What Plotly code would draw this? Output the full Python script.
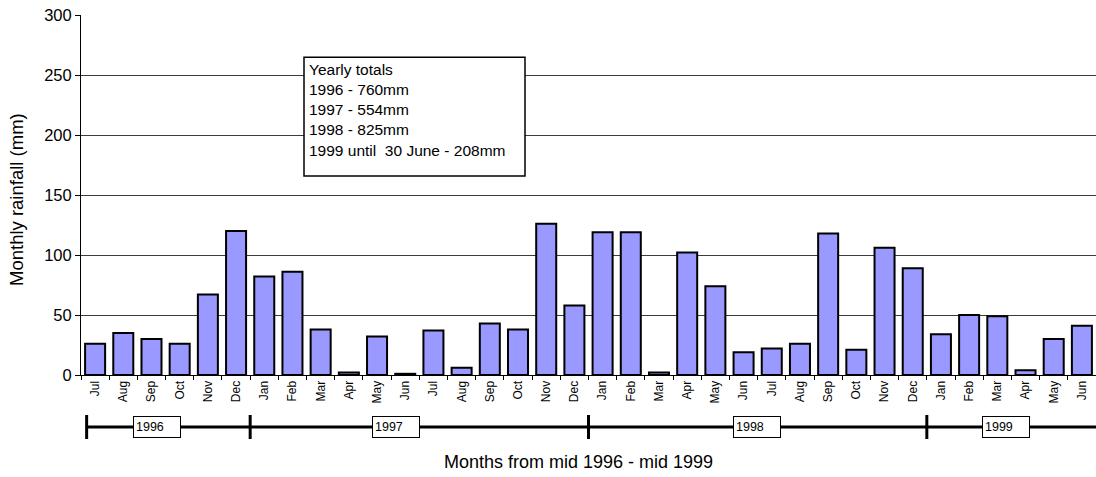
import plotly.graph_objects as go

# ---- data ----
months = ["Jul", "Aug", "Sep", "Oct", "Nov", "Dec",
          "Jan", "Feb", "Mar", "Apr", "May", "Jun", "Jul", "Aug", "Sep", "Oct", "Nov", "Dec",
          "Jan", "Feb", "Mar", "Apr", "May", "Jun", "Jul", "Aug", "Sep", "Oct", "Nov", "Dec",
          "Jan", "Feb", "Mar", "Apr", "May", "Jun"]
rainfall = [26, 35, 30, 26, 67, 120,
            82, 86, 38, 2, 32, 1, 37, 6, 43, 38, 126, 58,
            119, 119, 2, 102, 74, 19, 22, 26, 118, 21, 106, 89,
            34, 50, 49, 4, 30, 41]
years = ["1996", "1997", "1998", "1999"]
totals_lines = ["Yearly totals", "1996 - 760mm", "1997 - 554mm", "1998 - 825mm",
                "1999 until  30 June - 208mm"]

idx = list(range(len(months)))
FONT = "Liberation Sans, Arial, sans-serif"

fig = go.Figure()
fig.add_trace(go.Bar(
    x=idx, y=rainfall,
    marker=dict(color="#9999FF", line=dict(color="black", width=2)),
    width=0.71,
))

W, H = 1096, 477
L, R, T, B = 81, 0, 15, 102
pw = W - L - R
ph = H - T - B


def px2paper_x(px):
    return (px - L) / pw


def px2paper_y(py):
    return (H - B - py) / ph


def idx2paper(i):
    return (i + 0.5) / len(months)


shapes = []
annotations = []

# timeline under axis
line_y = px2paper_y(427)
start_b = -0.3
shapes.append(dict(type="line", xref="paper", yref="paper",
                   x0=idx2paper(start_b), x1=1.02, y0=line_y, y1=line_y,
                   line=dict(color="black", width=3)))
jan_bounds = [start_b] + [i - 0.5 for i, m in enumerate(months) if m == "Jan"]
for b in jan_bounds:
    xb = idx2paper(b)
    shapes.append(dict(type="line", xref="paper", yref="paper",
                       x0=xb, x1=xb, y0=px2paper_y(415), y1=px2paper_y(439),
                       line=dict(color="black", width=3)))

year_box_left = [133, 372, 733, 982]
for yr, bx in zip(years, year_box_left):
    annotations.append(dict(
        x=px2paper_x(bx), y=line_y, xref="paper", yref="paper",
        xanchor="left", yanchor="middle", text=yr, showarrow=False,
        align="left", width=42, height=16, borderpad=2, borderwidth=1,
        bordercolor="black", bgcolor="white",
        font=dict(family=FONT, size=12.5, color="black")))

# yearly totals box
shapes.append(dict(type="rect", xref="paper", yref="paper", layer="above",
                   x0=px2paper_x(304), x1=px2paper_x(525),
                   y0=px2paper_y(176), y1=px2paper_y(57.3),
                   line=dict(color="black", width=1.5), fillcolor="white"))
annotations.append(dict(
    x=px2paper_x(306.5), y=px2paper_y(109.7), xref="paper", yref="paper",
    xanchor="left", yanchor="middle", align="left", showarrow=False,
    text="<br>".join(totals_lines),
    font=dict(family=FONT, size=15.5, color="black")))

# axis titles
annotations.append(dict(
    x=px2paper_x(17), y=px2paper_y(200), xref="paper", yref="paper",
    xanchor="center", yanchor="middle", textangle=-90, showarrow=False,
    text="Monthly rainfall (mm)", font=dict(family=FONT, size=18.5, color="black")))
annotations.append(dict(
    x=px2paper_x(578), y=px2paper_y(462), xref="paper", yref="paper",
    xanchor="center", yanchor="middle", showarrow=False,
    text="Months from mid 1996 - mid 1999", font=dict(family=FONT, size=18, color="black")))

fig.update_layout(
    width=W, height=H,
    margin=dict(l=L, r=R, t=T, b=B, autoexpand=False),
    paper_bgcolor="white", plot_bgcolor="white",
    showlegend=False,
    bargap=0.29,
    shapes=shapes,
    annotations=annotations,
    xaxis=dict(
        range=[-0.5, len(months) - 0.5],
        tickmode="array", tickvals=idx, ticktext=months,
        tickangle=-90, ticks="", showgrid=False, zeroline=False,
        showline=True, linecolor="black", linewidth=1,
        tickfont=dict(family=FONT, size=12, color="black"),
        minor=dict(ticks="outside", tick0=0.5, dtick=1, ticklen=4,
                   tickcolor="black", tickwidth=1, showgrid=False),
        fixedrange=True,
    ),
    yaxis=dict(
        range=[0, 300], tickmode="linear", tick0=0, dtick=50,
        ticks="outside", ticklen=5, tickcolor="black",
        showgrid=True, gridcolor="#3c3c3c", gridwidth=1,
        zeroline=False, showline=True, linecolor="black", linewidth=1,
        tickfont=dict(family=FONT, size=16.5, color="black"),
        fixedrange=True,
    ),
)

fig.write_html(
    "out.html",
    config={"displayModeBar": False},
    post_script="document.body.style.margin='0';document.body.style.overflow='hidden';",
)
